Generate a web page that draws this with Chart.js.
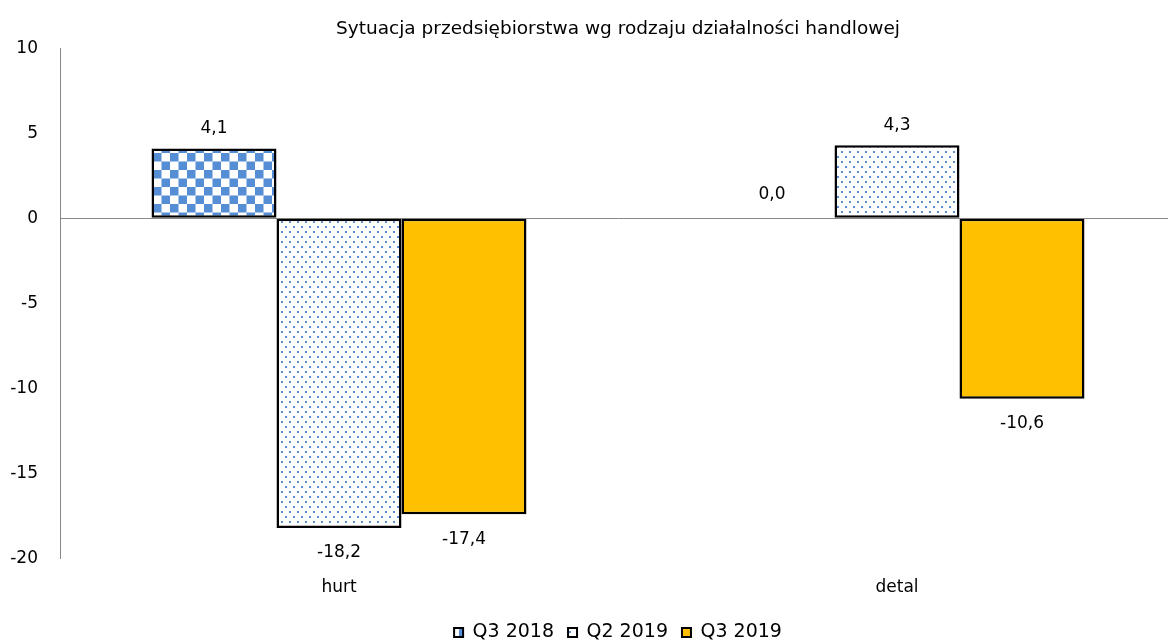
<!DOCTYPE html>
<html>
<head>
<meta charset="utf-8">
<script src="https://cdn.jsdelivr.net/npm/chart.js@4"></script>
<style>
html,body{margin:0;padding:0;background:#fff;overflow:hidden;}
#wrap{width:1168px;height:644px;overflow:hidden;}
</style>
</head>
<body>
<div id="wrap"><canvas id="c" width="1176" height="644"></canvas></div>
<script>
const categories = ['hurt', 'detal'];
const seriesNames = ['Q3 2018', 'Q2 2019', 'Q3 2019'];
const q3_2018 = [4.1, 0.0];
const q2_2019 = [-18.2, 4.3];
const q3_2019 = [-17.4, -10.6];
const yTicks = [10, 5, 0, -5, -10, -15, -20];
const chartTitle = 'Sytuacja przedsiębiorstwa wg rodzaju działalności handlowej';

const FONT = "'DejaVu Sans', Verdana, sans-serif";
const FS = 17;

function checkerPattern() {
  const c = document.createElement('canvas');
  c.width = 17; c.height = 17;
  const x = c.getContext('2d');
  x.fillStyle = '#ffffff'; x.fillRect(0,0,17,17);
  x.fillStyle = '#558ED5';
  x.fillRect(0,0,8.5,8.5);
  x.fillRect(8.5,8.5,8.5,8.5);
  return x.createPattern(c, 'repeat');
}
function dotPattern() {
  const c = document.createElement('canvas');
  c.width = 8; c.height = 10;
  const x = c.getContext('2d');
  x.fillStyle = '#ffffff'; x.fillRect(0,0,8,10);
  x.fillStyle = '#5B8FD8';
  x.fillRect(1,1,2,2);
  x.fillRect(5,6,2,2);
  return x.createPattern(c, 'repeat');
}

const labelPlugin = {
  id: 'valueLabels',
  afterDatasetsDraw(chart) {
    const ctx = chart.ctx;
    ctx.save();
    ctx.font = FS + 'px ' + FONT;
    ctx.fillStyle = '#000';
    ctx.textAlign = 'center';
    ctx.textBaseline = 'middle';
    chart.data.datasets.forEach((ds, di) => {
      const meta = chart.getDatasetMeta(di);
      meta.data.forEach((el, i) => {
        const v = ds.data[i];
        const txt = v.toFixed(1).replace('.', ',');
        let y;
        if (v > 0) y = el.y - 20;
        else if (v < 0) y = el.y + 25;
        else y = el.y - 24;
        ctx.fillText(txt, el.x, y);
      });
    });
    ctx.restore();
  }
};

const datasets = [
  { label: seriesNames[0], data: q3_2018, backgroundColor: checkerPattern() },
  { label: seriesNames[1], data: q2_2019, backgroundColor: dotPattern() },
  { label: seriesNames[2], data: q3_2019, backgroundColor: '#FFC000' }
].map(d => Object.assign(d, { borderColor: '#000', borderWidth: 2.5, borderSkipped: false }));

new Chart(document.getElementById('c'), {
  type: 'bar',
  data: { labels: categories, datasets },
  plugins: [labelPlugin],
  options: {
    responsive: false,
    animation: false,
    devicePixelRatio: 1,
    layout: { padding: { top: 0, right: 0, left: 0, bottom: -8 } },
    datasets: { bar: { barPercentage: 1, categoryPercentage: 0.672 } },
    plugins: {
      title: {
        display: true, text: chartTitle, color: '#000', fullSize: false,
        font: { family: FONT, size: 18.5, weight: 'normal' },
        padding: { top: 18, bottom: 8 }
      },
      legend: {
        position: 'bottom',
        fullSize: false,
        labels: {
          color: '#000', font: { family: FONT, size: 19 },
          boxWidth: 9, boxHeight: 9, padding: 14,
          generateLabels(chart) {
            return chart.data.datasets.map((ds, i) => ({
              text: ds.label, fillStyle: ds.backgroundColor, strokeStyle: '#000',
              lineWidth: 2, datasetIndex: i, fontColor: '#000'
            }));
          }
        }
      },
      tooltip: { enabled: false }
    },
    scales: {
      x: {
        grid: { display: false },
        border: { display: false },
        ticks: { color: '#000', font: { family: FONT, size: FS }, padding: 11 }
      },
      y: {
        min: -20, max: 10,
        afterBuildTicks(axis) { axis.ticks = yTicks.map(v => ({ value: v })); },
        afterFit(axis) { axis.width = 60; },
        grid: {
          drawTicks: false,
          color: c => (c.tick && c.tick.value === 0) ? '#888' : 'rgba(0,0,0,0)',
          lineWidth: 1
        },
        border: { display: true, color: '#888', width: 1 },
        ticks: { color: '#000', font: { family: FONT, size: FS }, padding: 22, callback: v => String(v) }
      }
    }
  }
});
</script>
</body>
</html>
